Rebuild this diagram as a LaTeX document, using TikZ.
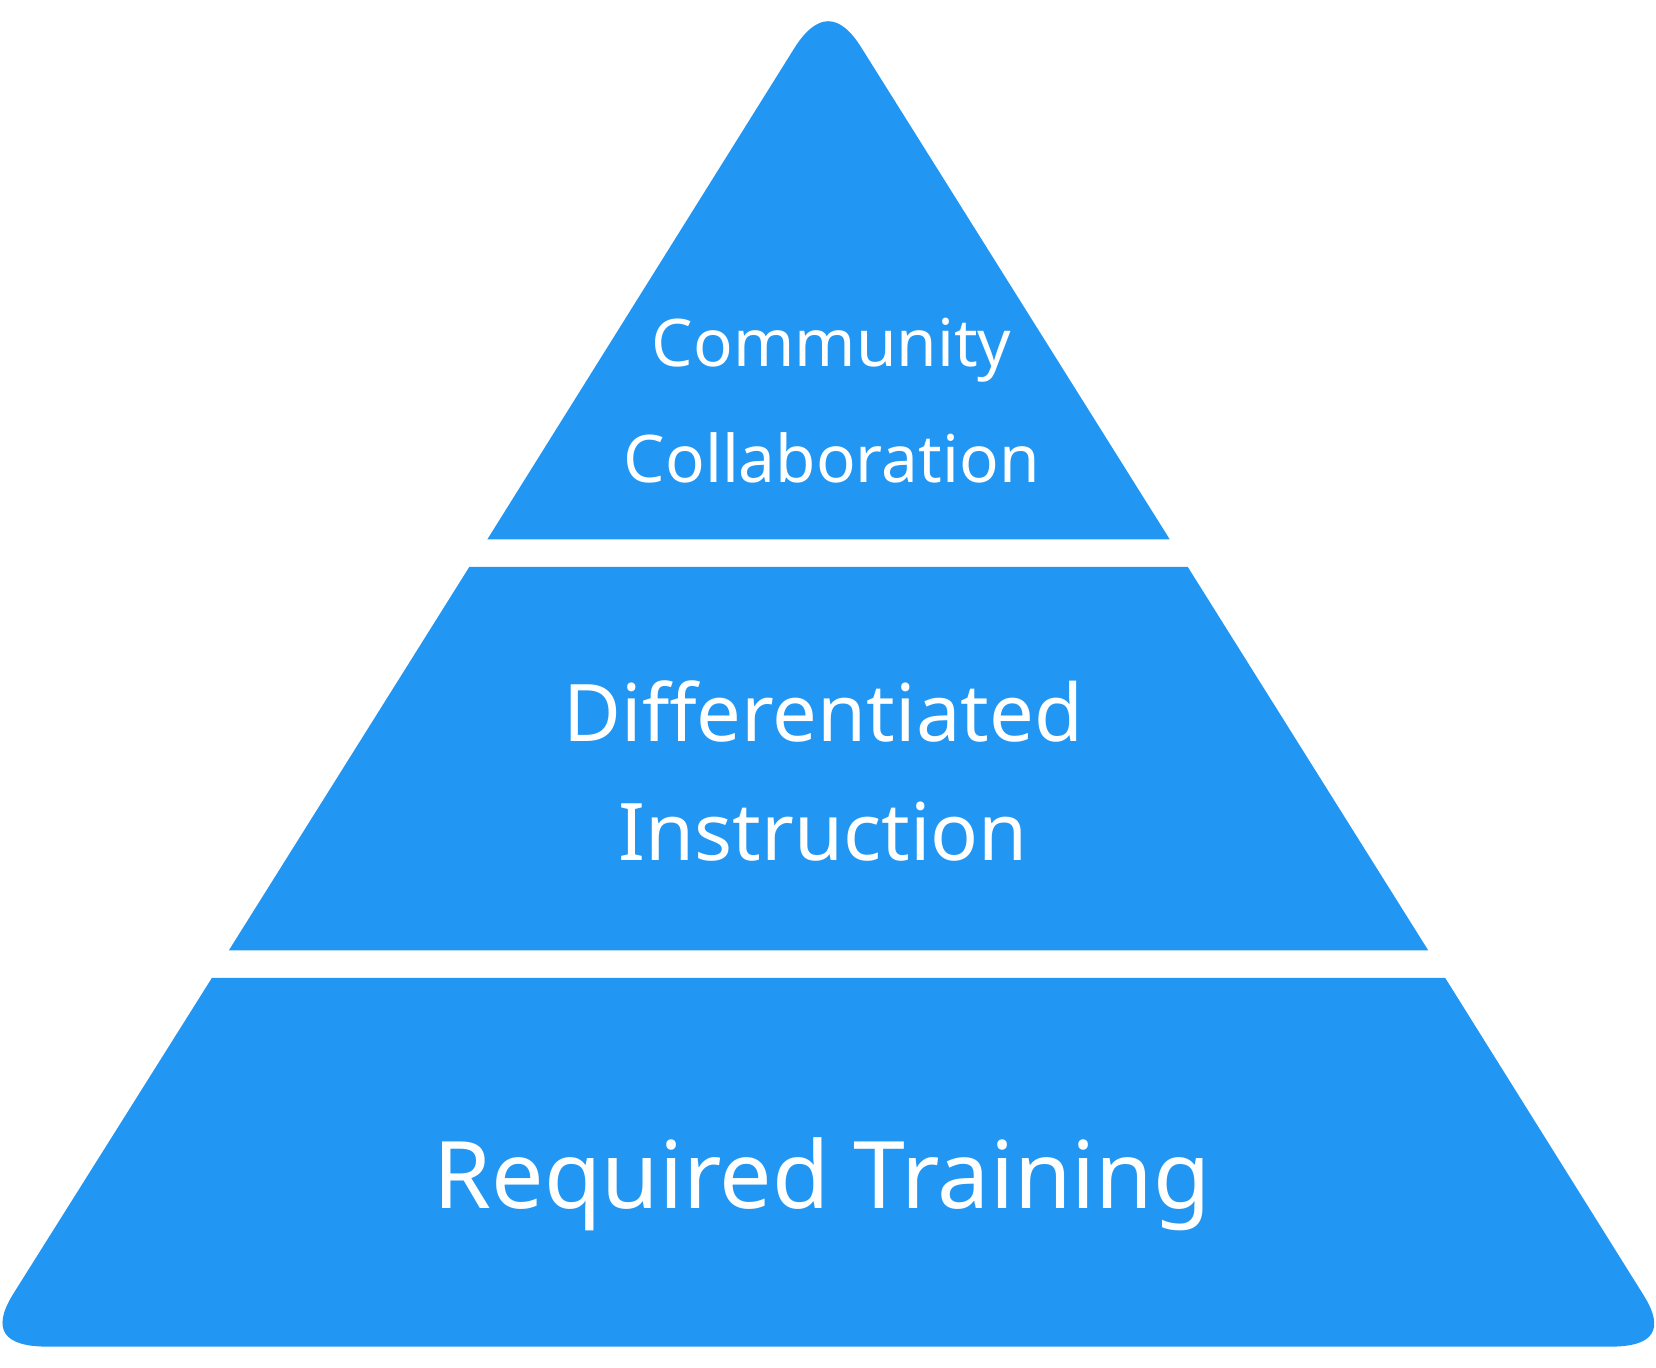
\documentclass[tikz,border=0pt]{standalone}
\usepackage{fontspec}
\setmainfont{Noto Sans}
\definecolor{pyr}{HTML}{2196F3}
\begin{document}
\begin{tikzpicture}[x=0.5pt,y=-0.5pt,
  lvl/.style={fill=pyr,draw=none},
  lbl/.style={text=white,align=center,inner sep=0pt}]
\useasboundingbox (0,0) rectangle (1563,1291);
\fill[lvl] (460,509) -- (750,45) .. controls (771.3,11.7) and (792.3,11.7) .. (813,45) -- (1104,509) -- cycle;
\fill[lvl] (443,535) -- (1121,535) -- (1348,897) -- (216,897) -- cycle;
\fill[lvl] (200,923) -- (1364,923) -- (1551,1222) .. controls (1571.7,1254.7) and (1561.3,1271) .. (1520,1271)
  -- (45,1271) .. controls (3,1271) and (-8,1254.7) .. (12,1222) -- cycle;
\node[lbl,font=\fontsize{31}{55}\selectfont] (top) at (785,378) {Community\\Collaboration};
\node[lbl,font=\fontsize{37.5}{56}\selectfont] (mid) at (777,728) {Differentiated\\Instruction};
\node[lbl,font=\fontsize{44}{60}\selectfont] (bot) at (776,1118) {Required Training};
\end{tikzpicture}
\end{document}
